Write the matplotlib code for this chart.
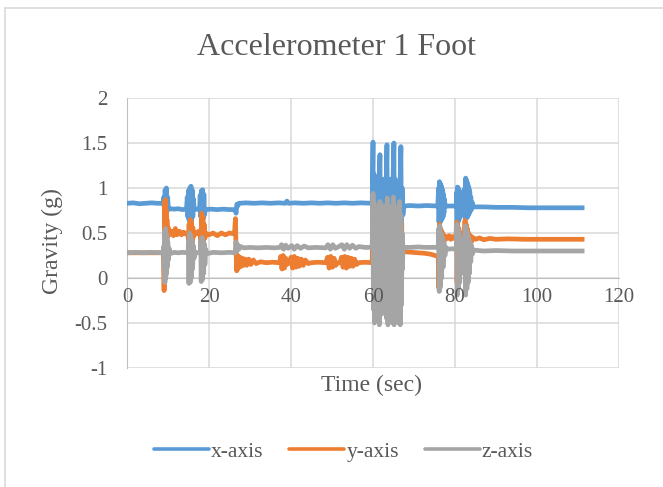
import matplotlib
matplotlib.use("Agg")
import matplotlib.pyplot as plt
from matplotlib.lines import Line2D
from matplotlib.patches import Rectangle

# readings picked off the chart: (time in sec, gravity in g)
x_axis_pts = [
    (0, 0.83), (1.5, 0.835), (3, 0.825), (4.5, 0.83), (6, 0.835), (7.5, 0.83), (8.8, 0.83),
    (9.0, 0.9), (9.15, 0.72), (9.3, 0.98), (9.45, 0.74), (9.6, 1.0), (9.75, 0.75), (9.9, 0.9), (10.1, 0.76), (10.4, 0.77),
    (11.5, 0.765), (12.5, 0.77), (13.5, 0.76), (14.5, 0.765),
    (14.7, 0.9), (14.85, 0.68), (15.0, 0.97), (15.15, 0.64), (15.3, 1.0), (15.45, 0.62), (15.6, 1.02), (15.75, 0.64),
    (15.9, 0.98), (16.05, 0.68), (16.2, 0.88), (16.4, 0.76),
    (17.0, 0.765), (17.7, 0.76),
    (17.85, 0.92), (18.0, 0.68), (18.15, 0.97), (18.3, 0.65), (18.45, 0.98), (18.6, 0.66), (18.75, 0.93), (18.9, 0.7), (19.1, 0.76),
    (20.5, 0.765), (22, 0.76), (23.5, 0.765), (25, 0.76), (26.4, 0.76),
    (26.6, 0.72), (26.8, 0.82), (27.0, 0.8), (27.3, 0.83),
    (29, 0.835), (31, 0.83), (33, 0.835), (35, 0.83), (37, 0.835), (38.6, 0.83), (39, 0.855), (39.4, 0.83),
    (41, 0.835), (43, 0.83), (45, 0.835), (47, 0.83), (49, 0.835), (51, 0.83), (53, 0.835), (55, 0.83), (57, 0.835), (59.8, 0.83),
    (60.0, 1.51), (60.1, 0.6), (60.3, 1.15), (60.5, 0.55), (60.7, 1.1), (60.9, 0.6), (61.1, 1.05), (61.3, 0.62), (61.5, 1.1),
    (61.7, 1.37), (61.8, 0.58), (62.0, 1.1), (62.2, 0.6), (62.4, 1.05), (62.6, 0.55), (62.8, 1.1), (63.0, 0.6), (63.2, 1.0),
    (63.4, 1.48), (63.5, 0.58), (63.7, 1.1), (63.9, 0.6), (64.1, 1.05), (64.3, 0.62), (64.5, 1.1), (64.7, 0.6), (64.9, 1.1),
    (65.1, 1.5), (65.2, 0.55), (65.4, 1.1), (65.6, 0.6), (65.8, 1.05), (66.0, 0.58), (66.2, 1.0), (66.4, 0.62), (66.6, 1.05),
    (66.8, 1.46), (66.9, 0.6), (67.1, 1.0), (67.3, 0.7), (67.5, 0.8),
    (69, 0.805), (71, 0.8), (73, 0.805), (75.8, 0.8),
    (76.0, 1.0), (76.1, 0.62), (76.2, 1.07), (76.3, 0.61), (76.4, 1.05), (76.5, 0.63), (76.6, 1.03), (76.7, 0.65), (76.8, 1.0),
    (76.9, 0.66), (77.0, 0.97), (77.1, 0.68), (77.2, 0.93), (77.3, 0.72), (77.4, 0.88), (77.6, 0.79), (77.9, 0.8),
    (79.5, 0.8), (80.3, 0.8),
    (80.4, 0.95), (80.5, 0.63), (80.6, 1.01), (80.7, 0.62), (80.8, 1.0), (80.9, 0.64), (81.0, 0.98), (81.1, 0.66), (81.2, 0.95),
    (81.3, 0.68), (81.4, 0.92), (81.5, 0.7), (81.6, 0.88), (81.75, 0.74), (81.9, 0.84), (82.1, 0.8),
    (82.3, 0.8),
    (82.4, 1.0), (82.5, 0.67), (82.6, 1.11), (82.7, 0.66), (82.8, 1.09), (82.9, 0.67), (83.0, 1.06), (83.1, 0.68), (83.2, 1.03),
    (83.3, 0.7), (83.4, 1.0), (83.5, 0.72), (83.6, 0.96), (83.7, 0.74), (83.85, 0.9), (84.0, 0.76), (84.2, 0.84), (84.4, 0.79),
    (87, 0.79), (90, 0.785), (94, 0.785), (98, 0.78), (102, 0.78), (106, 0.78), (111, 0.78),
]

y_axis_pts = [
    (0, 0.28), (4, 0.28), (8.8, 0.28),
    (8.95, 0.2), (9.05, -0.14), (9.15, 0.85), (9.25, 0.1), (9.35, 0.87), (9.45, 0.3), (9.55, 0.75), (9.65, 0.4), (9.75, 0.65),
    (9.9, 0.45), (10.05, 0.56), (10.3, 0.48),
    (10.8, 0.52), (11.3, 0.47), (11.8, 0.55), (12.2, 0.48), (12.8, 0.52), (13.3, 0.48), (13.8, 0.51), (14.3, 0.49), (14.8, 0.5),
    (15.0, 0.42), (15.15, 0.6), (15.3, 0.35), (15.45, 0.65), (15.6, 0.3), (15.75, 0.62), (15.9, 0.4), (16.05, 0.56), (16.25, 0.46), (16.5, 0.51),
    (17.0, 0.49), (17.5, 0.52), (17.9, 0.48),
    (18.05, 0.35), (18.2, 0.72), (18.35, 0.3), (18.5, 0.68), (18.65, 0.38), (18.8, 0.6), (19.0, 0.44), (19.2, 0.5),
    (20, 0.48), (21, 0.5), (22, 0.47), (23, 0.5), (24, 0.48), (25, 0.5), (26.2, 0.49),
    (26.45, 0.66), (26.6, 0.3), (26.75, 0.08), (26.9, 0.25), (27.05, 0.1), (27.2, 0.24), (27.4, 0.12), (27.6, 0.23), (27.8, 0.13),
    (28.1, 0.22), (28.4, 0.14), (28.8, 0.21), (29.2, 0.14), (29.7, 0.21), (30.2, 0.15), (30.8, 0.2), (31.5, 0.16), (32.5, 0.18),
    (34, 0.17), (35.5, 0.175), (37.2, 0.17),
    (37.5, 0.24), (37.8, 0.1), (38.1, 0.25), (38.4, 0.11), (38.7, 0.22), (39.0, 0.15), (39.6, 0.17),
    (40.0, 0.23), (40.4, 0.11), (40.8, 0.24), (41.2, 0.12), (41.6, 0.22), (42.0, 0.13), (42.5, 0.21), (43.0, 0.14), (43.5, 0.2),
    (44.2, 0.16), (45, 0.17), (46.5, 0.175), (48.5, 0.17),
    (48.9, 0.23), (49.3, 0.11), (49.7, 0.24), (50.1, 0.12), (50.5, 0.22), (50.9, 0.14), (51.4, 0.17), (52.0, 0.17),
    (52.3, 0.23), (52.7, 0.12), (53.1, 0.24), (53.5, 0.11), (53.9, 0.23), (54.3, 0.13), (54.7, 0.22), (55.1, 0.13), (55.5, 0.21),
    (56.0, 0.15), (56.5, 0.17), (58, 0.175), (59.8, 0.17),
    (60.0, 0.8), (60.15, -0.3), (60.3, 0.7), (60.45, -0.2), (60.6, 0.75), (60.75, -0.25), (60.9, 0.7), (61.05, -0.3), (61.2, 0.75),
    (61.35, -0.2), (61.5, 0.7), (61.65, -0.3), (61.8, 0.75), (62.0, -0.25), (62.2, 0.7), (62.4, -0.3), (62.6, 0.75), (62.8, -0.2),
    (63.0, 0.7), (63.2, -0.3), (63.4, 0.75), (63.6, -0.25), (63.8, 0.7), (64.0, -0.3), (64.2, 0.72), (64.4, -0.25), (64.6, 0.7),
    (64.8, -0.3), (65.0, 0.75), (65.2, -0.2), (65.4, 0.7), (65.6, -0.3), (65.8, 0.72), (66.0, -0.25), (66.2, 0.68), (66.4, -0.3),
    (66.6, 0.7), (66.8, -0.25), (67.0, 0.6), (67.15, 0.1),
    (67.3, 0.34), (67.6, 0.3), (68.2, 0.29), (69.5, 0.285), (71, 0.28), (72.5, 0.275), (74, 0.265), (75.2, 0.25), (75.9, 0.24),
    (76.05, -0.11), (76.2, 0.6), (76.35, 0.1), (76.5, 0.55), (76.65, 0.2), (76.8, 0.52), (77.0, 0.34), (77.25, 0.48), (77.5, 0.42),
    (77.8, 0.46), (78.2, 0.44), (78.6, 0.47), (79.0, 0.43), (79.4, 0.46), (79.8, 0.44), (80.2, 0.45),
    (80.4, 0.62), (80.5, -0.05), (80.65, 0.6), (80.8, 0.1), (80.95, 0.55), (81.1, 0.2), (81.25, 0.5), (81.4, 0.3), (81.6, 0.48),
    (81.85, 0.4), (82.1, 0.46), (82.3, 0.45),
    (82.45, 0.64), (82.55, -0.08), (82.7, 0.6), (82.85, 0.08), (83.0, 0.55), (83.15, 0.2), (83.35, 0.5), (83.55, 0.32), (83.8, 0.47),
    (84.0, 0.4), (84.4, 0.45), (85, 0.43), (86, 0.445), (87, 0.425), (88.5, 0.44), (90, 0.43), (93, 0.435), (97, 0.43),
    (101, 0.43), (105, 0.43), (111, 0.43),
]

z_axis_pts = [
    (0, 0.28), (2, 0.285), (4, 0.28), (6, 0.285), (8.8, 0.28),
    (8.95, 0.35), (9.05, 0.1), (9.15, 0.52), (9.25, -0.05), (9.35, 0.55), (9.45, 0.0), (9.55, 0.5), (9.65, 0.05), (9.75, 0.45),
    (9.85, 0.12), (9.95, 0.4), (10.1, 0.2), (10.25, 0.33), (10.5, 0.27),
    (11.5, 0.285), (12.5, 0.28), (13.5, 0.285), (14.9, 0.28),
    (15.0, 0.4), (15.1, -0.06), (15.25, 0.5), (15.4, -0.05), (15.55, 0.47), (15.7, 0.0), (15.85, 0.42), (16.0, 0.1), (16.15, 0.36),
    (16.35, 0.22), (16.6, 0.29),
    (17.2, 0.28), (17.9, 0.28),
    (18.0, 0.42), (18.1, -0.04), (18.25, 0.45), (18.4, -0.02), (18.55, 0.42), (18.7, 0.05), (18.85, 0.38), (19.0, 0.15),
    (19.2, 0.32), (19.45, 0.27),
    (21, 0.285), (23, 0.28), (25, 0.285), (26.4, 0.28),
    (26.6, 0.4), (26.8, 0.3), (27.0, 0.37), (27.3, 0.32), (27.7, 0.35), (28.5, 0.335), (30, 0.34), (32, 0.335), (34, 0.34),
    (36, 0.335), (37.3, 0.34), (37.7, 0.37), (38.2, 0.32), (38.7, 0.365), (39.3, 0.33), (40.2, 0.36), (40.8, 0.32), (41.5, 0.36),
    (42.3, 0.33), (43.2, 0.355), (44.2, 0.335), (46, 0.34), (48.5, 0.335), (49.0, 0.37), (49.6, 0.32), (50.2, 0.37), (50.8, 0.33),
    (51.5, 0.345), (52.4, 0.37), (53.0, 0.32), (53.6, 0.37), (54.3, 0.33), (55.0, 0.365), (55.8, 0.33), (56.6, 0.35), (58, 0.34),
    (59.8, 0.34),
    (60.0, 0.94), (60.1, -0.35), (60.2, 0.85), (60.35, -0.5), (60.5, 0.8), (60.65, -0.3), (60.8, 0.75), (60.95, -0.45), (61.1, 0.8),
    (61.25, -0.2), (61.4, 0.7), (61.55, -0.52), (61.7, 0.85), (61.85, -0.3), (62.0, 0.7), (62.15, -0.4), (62.3, 0.75), (62.45, -0.25),
    (62.6, 0.8), (62.75, -0.35), (62.9, 0.7), (63.05, -0.3), (63.2, 0.75), (63.35, -0.45), (63.5, 0.89), (63.65, -0.52), (63.8, 0.7),
    (63.95, -0.3), (64.1, 0.75), (64.25, -0.35), (64.4, 0.7), (64.55, -0.25), (64.7, 0.8), (64.85, -0.5), (65.0, 0.9), (65.15, -0.52),
    (65.3, 0.7), (65.45, -0.3), (65.6, 0.75), (65.75, -0.35), (65.9, 0.7), (66.05, -0.4), (66.2, 0.8), (66.35, -0.5), (66.5, 0.85),
    (66.65, -0.52), (66.8, 0.7), (66.95, -0.3), (67.1, 0.5), (67.2, 0.1), (67.3, 0.36), (67.5, 0.34),
    (69, 0.34), (71, 0.345), (73, 0.34), (75.9, 0.34),
    (76.05, 0.55), (76.15, -0.15), (76.3, 0.58), (76.45, -0.1), (76.6, 0.5), (76.75, 0.0), (76.9, 0.45), (77.1, 0.12), (77.3, 0.4),
    (77.55, 0.25), (77.8, 0.34), (78.3, 0.32),
    (79.2, 0.325), (80.3, 0.32),
    (80.45, 0.6), (80.55, -0.19), (80.7, 0.55), (80.85, -0.12), (81.0, 0.5), (81.15, -0.05), (81.3, 0.45), (81.45, 0.05), (81.6, 0.4),
    (81.8, 0.18), (82.0, 0.36), (82.2, 0.28), (82.35, 0.31),
    (82.5, 0.58), (82.6, -0.19), (82.75, 0.55), (82.9, -0.12), (83.05, 0.5), (83.2, -0.05), (83.35, 0.45), (83.5, 0.05), (83.65, 0.4),
    (83.85, 0.18), (84.05, 0.36), (84.3, 0.27), (84.5, 0.31),
    (87, 0.3), (90, 0.305), (94, 0.3), (98, 0.3), (102, 0.3), (106, 0.3), (111, 0.3),
]

series_names = ["x-axis", "y-axis", "z-axis"]
series_colors = ["#5b9bd5", "#ed7d31", "#a5a5a5"]
x_ticks = [0, 20, 40, 60, 80, 100, 120]
y_ticks = [-1, -0.5, 0, 0.5, 1, 1.5, 2]
y_tick_labels = ["-1", "-0.5", "0", "0.5", "1", "1.5", "2"]

plt.rcParams["font.family"] = ["Liberation Serif", "DejaVu Serif"]
text_color = "#595959"

fig = plt.figure(figsize=(6.63, 4.87), dpi=100)
# light chart-area border like excel
fig.patches.append(Rectangle((5 / 663, -0.05), 1.1, 1 - 8 / 487 + 0.05, transform=fig.transFigure,
                             fill=False, edgecolor="#d9d9d9", lw=1.2))

rect = [127 / 663, 1 - 368 / 487, 492 / 663, 270 / 487]
ax = fig.add_axes(rect)

for pts, name, col in zip([x_axis_pts, y_axis_pts, z_axis_pts], series_names, series_colors):
    t = [p[0] for p in pts]
    v = [p[1] for p in pts]
    ax.plot(t, v, color=col, lw=3.4, label=name, zorder=3, solid_joinstyle="round")

ax.set_xlim(0, 120)
ax.set_ylim(-1, 2)
ax.set_xticks(x_ticks)
ax.set_yticks(y_ticks)
ax.set_yticklabels(y_tick_labels)
ax.grid(color="#d9d9d9", lw=1.1)
ax.set_axisbelow(True)
for s in ["top", "right"]:
    ax.spines[s].set_visible(False)
ax.spines["bottom"].set_position(("data", 0))
ax.spines["bottom"].set_color("#bfbfbf")
ax.spines["left"].set_color("#bfbfbf")
ax.tick_params(length=0, labelsize=15, colors=text_color)
ax.tick_params(axis="y", pad=14)
ax.tick_params(axis="x", labelbottom=False)

# x tick labels sit on top of the data, like excel draws them
ax_lab = fig.add_axes(rect)
ax_lab.patch.set_visible(False)
ax_lab.set_xlim(0, 120)
ax_lab.set_ylim(-1, 2)
ax_lab.set_xticks(x_ticks)
ax_lab.set_yticks([])
for s in ax_lab.spines.values():
    s.set_visible(False)
ax_lab.spines["bottom"].set_position(("data", 0))
ax_lab.tick_params(length=0, labelsize=15, colors=text_color, pad=7)

fig.text(0.508, 0.903, "Accelerometer 1 Foot", ha="center", va="center", fontsize=23, color=text_color)
fig.text(0.079, 0.505, "Gravity (g)", ha="center", va="center", rotation=90, fontsize=17, color=text_color)
fig.text(0.561, 0.209, "Time (sec)", ha="center", va="center", fontsize=17, color=text_color)

handles = [Line2D([], [], color=c, lw=2.6, solid_capstyle="round") for c in series_colors]
fig.legend(handles, series_names, loc="center", bbox_to_anchor=(0.518, 0.072), ncol=3, frameon=False,
           fontsize=15.5, labelcolor=text_color, handlelength=2.55, handletextpad=0.1, columnspacing=1.2)

fig.savefig("out.png", dpi=100)
